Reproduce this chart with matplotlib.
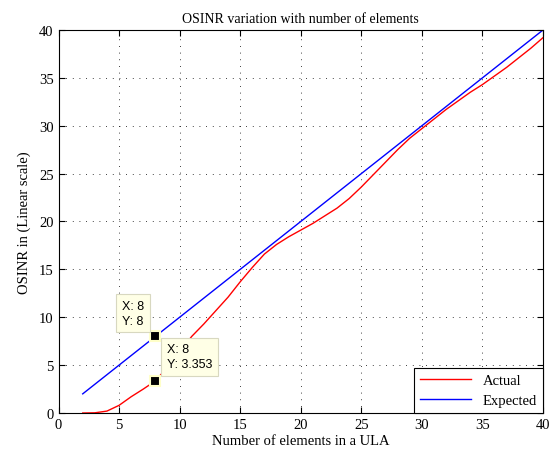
import numpy as np
import matplotlib
matplotlib.use('Agg')
import matplotlib.pyplot as plt

# number of elements in the ULA
n_actual = [2, 3, 4, 5, 6, 7, 8, 9, 10, 11, 12, 13, 14, 15, 16, 17, 18, 19, 20,
            21, 22, 23, 24, 25, 26, 27, 28, 29, 30, 31, 32, 33, 34, 35, 36, 37, 38, 39, 40]
osinr_actual = [0.0, 0.02, 0.2, 0.8, 1.7, 2.5, 3.353, 4.8, 6.4, 8.0, 9.3, 10.7, 12.1, 13.7,
                15.2, 16.6, 17.6, 18.4, 19.1, 19.8, 20.6, 21.4, 22.4, 23.6, 24.9, 26.2,
                27.5, 28.7, 29.7, 30.7, 31.7, 32.6, 33.5, 34.3, 35.2, 36.1, 37.1, 38.1, 39.2]
n_expected = [2, 40]
osinr_expected = [2, 40]

# data tips
tip_x = [8, 8]
tip_y = [8, 3.353]

serif = 'Liberation Serif'

fig = plt.figure(figsize=(5.52, 4.52), dpi=100)
ax = fig.add_axes([58.5 / 552, 1 - 414 / 452, 484.5 / 552, 383 / 452])

ax.plot(n_actual, osinr_actual, color='red', lw=1.0, label='Actual')
ax.plot(n_expected, osinr_expected, color='blue', lw=1.0, label='Expected')

ax.set_xlim(0, 40)
ax.set_ylim(0, 40)
ax.set_xticks(range(0, 41, 5))
ax.set_yticks(range(0, 41, 5))
ax.grid(True, color='black', linestyle=(0, (1, 7)), linewidth=0.6)
ax.tick_params(direction='in', top=True, right=True, length=4, labelsize=10.5)
for lab in ax.get_xticklabels() + ax.get_yticklabels():
    lab.set_fontfamily(serif)

ax.set_title('OSINR variation with number of elements', fontfamily=serif, fontsize=10, pad=6)
ax.set_xlabel('Number of elements in a ULA', fontfamily=serif, fontsize=10.5, labelpad=2)
ax.set_ylabel('OSINR in (Linear scale)', fontfamily=serif, fontsize=10.5, labelpad=6)

leg = ax.legend(loc='lower right', prop={'family': serif, 'size': 10.5}, fancybox=False,
                borderaxespad=0, handlelength=3.5, framealpha=1, edgecolor='black')
leg.get_frame().set_linewidth(0.8)

# data tip markers
ax.plot(tip_x, tip_y, 's', ms=7, mfc='black', mec='#ffffc8', mew=1.5, zorder=5)

box = dict(boxstyle='square,pad=0.45', fc='#ffffe6', ec='#d8d8c0', lw=0.8)
ax.annotate(f'X: {tip_x[0]}\nY: {tip_y[0]:g}', xy=(tip_x[0], tip_y[0]), xytext=(-24, 7),
            textcoords='offset points', ha='left', va='bottom', fontsize=9,
            family='Liberation Sans', bbox=box, zorder=6, linespacing=1.3)
ax.annotate(f'X: {tip_x[1]}\nY: {tip_y[1]:g}', xy=(tip_x[0], tip_y[0]), xytext=(8, -5),
            textcoords='offset points', ha='left', va='top', fontsize=9,
            family='Liberation Sans', bbox=box, zorder=6, linespacing=1.3)

fig.savefig('out.png', dpi=100)
